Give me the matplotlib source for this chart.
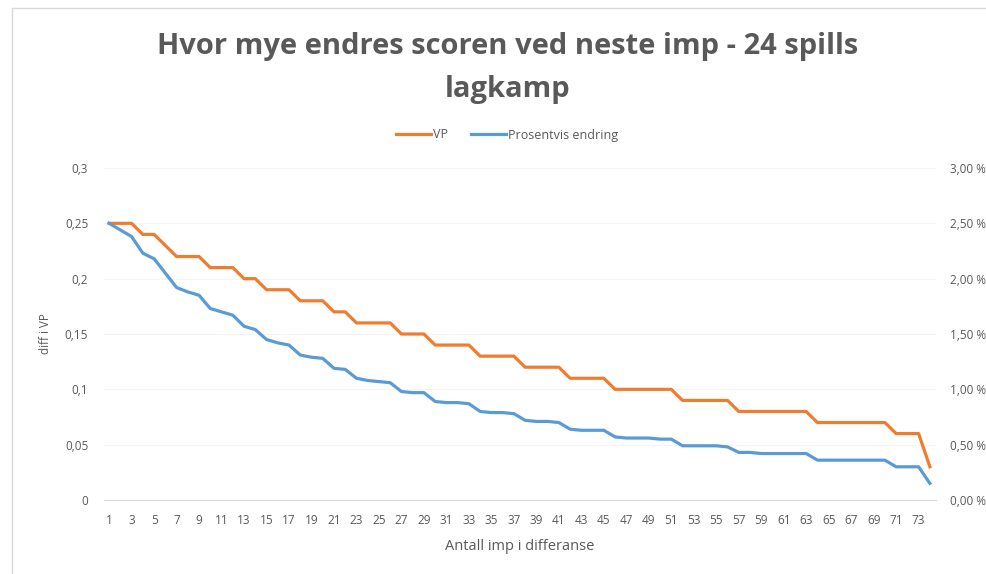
import matplotlib
matplotlib.use("Agg")
import matplotlib.pyplot as plt
from matplotlib.patches import Rectangle
from matplotlib.ticker import FuncFormatter, MultipleLocator

# antall imp i differanse (1..74)
imp = list(range(1, 75))

# diff i VP ved neste imp
vp = [0.25, 0.25, 0.25, 0.24, 0.24, 0.23, 0.22, 0.22, 0.22, 0.21,
      0.21, 0.21, 0.20, 0.20, 0.19, 0.19, 0.19, 0.18, 0.18, 0.18,
      0.17, 0.17, 0.16, 0.16, 0.16, 0.16, 0.15, 0.15, 0.15, 0.14,
      0.14, 0.14, 0.14, 0.13, 0.13, 0.13, 0.13, 0.12, 0.12, 0.12,
      0.12, 0.11, 0.11, 0.11, 0.11, 0.10, 0.10, 0.10, 0.10, 0.10,
      0.10, 0.09, 0.09, 0.09, 0.09, 0.09, 0.08, 0.08, 0.08, 0.08,
      0.08, 0.08, 0.08, 0.07, 0.07, 0.07, 0.07, 0.07, 0.07, 0.07,
      0.06, 0.06, 0.06, 0.03]

# prosentvis endring (i %)
prosent = [2.50, 2.44, 2.38, 2.23, 2.18, 2.05, 1.92, 1.88, 1.85, 1.73,
           1.70, 1.67, 1.57, 1.54, 1.45, 1.42, 1.40, 1.31, 1.29, 1.28,
           1.19, 1.18, 1.10, 1.08, 1.07, 1.06, 0.98, 0.97, 0.97, 0.89,
           0.88, 0.88, 0.87, 0.80, 0.79, 0.79, 0.78, 0.72, 0.71, 0.71,
           0.70, 0.64, 0.63, 0.63, 0.63, 0.57, 0.56, 0.56, 0.56, 0.55,
           0.55, 0.49, 0.49, 0.49, 0.49, 0.48, 0.43, 0.43, 0.42, 0.42,
           0.42, 0.42, 0.42, 0.36, 0.36, 0.36, 0.36, 0.36, 0.36, 0.36,
           0.30, 0.30, 0.30, 0.15]

tittel = "Hvor mye endres scoren ved neste imp - 24 spills\nlagkamp"
grey = "#595959"
plt.rcParams['font.family'] = ['Open Sans', 'DejaVu Sans']

W, H = 986, 574
fig = plt.figure(figsize=(W / 100, H / 100), dpi=100)
# ramme rundt diagrammet (høyre/nedre kant er klippet bort i originalen)
fig.patches.append(Rectangle((12 / W, -0.05), 1.1, 1 - 8 / H + 0.05,
                             transform=fig.transFigure, fill=False,
                             edgecolor="#d9d9d9", linewidth=1))

ax = fig.add_axes([103.5 / W, 1 - 500 / H, (935.5 - 103.5) / W, 332 / H])
l1, = ax.plot(imp, vp, color="#ED7D31", linewidth=2.3, label="VP")
ax.set_xlim(0.5, 74.5)
ax.set_ylim(0, 0.3)
ax.yaxis.set_major_locator(MultipleLocator(0.05))
ax.yaxis.set_major_formatter(FuncFormatter(lambda v, p: ("%g" % round(v, 2)).replace(".", ",")))
ax.set_xticks(imp[::2])
ax.grid(axis="y", color="#f4f4f4", linewidth=0.8)
ax.set_axisbelow(True)
for s in ["top", "right", "left"]:
    ax.spines[s].set_visible(False)
ax.spines["bottom"].set_color("#d9d9d9")
ax.tick_params(axis="both", length=0, colors=grey, labelsize=8.5)
ax.tick_params(axis="y", pad=11)
ax.tick_params(axis="x", pad=10)
ax.set_ylabel("diff i VP", color=grey, fontsize=8.5, labelpad=9)
ax.set_xlabel("Antall imp i differanse", color=grey, fontsize=10.5, labelpad=9)

ax2 = ax.twinx()
l2, = ax2.plot(imp, prosent, color="#5B9BD5", linewidth=2.3, label="Prosentvis endring")
ax2.set_ylim(0, 3)
ax2.yaxis.set_major_locator(MultipleLocator(0.5))
ax2.yaxis.set_major_formatter(FuncFormatter(lambda v, p: ("%.2f %%" % v).replace(".", ",")))
for s in ax2.spines.values():
    s.set_visible(False)
ax2.tick_params(axis="y", length=0, colors=grey, labelsize=8.5, pad=10.5)

fig.text(508 / W, 1 - 68 / H, tittel, ha="center", va="center", fontsize=21,
         fontweight="bold", color=grey, linespacing=1.65, multialignment="center")
fig.legend(handles=[l1, l2], loc="center", bbox_to_anchor=(507 / W, 1 - 135 / H),
           ncol=2, frameon=False, fontsize=9, labelcolor=grey,
           handlelength=2.8, handletextpad=0.15, columnspacing=1.8)

fig.savefig("out.png", dpi=100)
